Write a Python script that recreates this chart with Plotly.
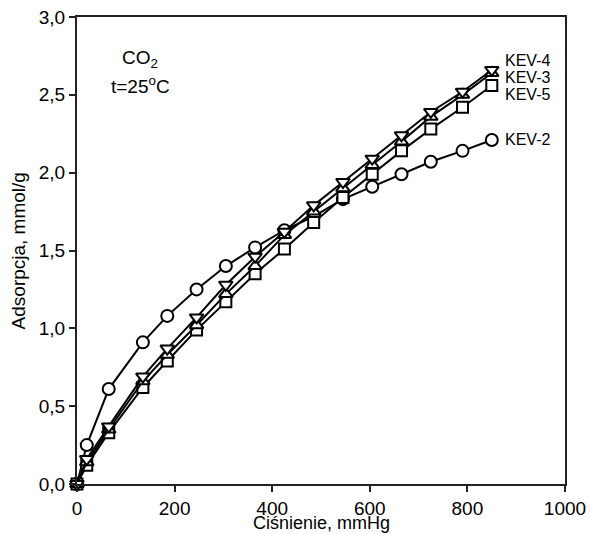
import plotly.graph_objects as go

pressure = [0, 20, 65, 135, 185, 245, 305, 365, 425, 485, 545, 605, 665, 725, 790, 850]
kev2 = [0.0, 0.25, 0.61, 0.91, 1.08, 1.25, 1.40, 1.52, 1.63, 1.72, 1.83, 1.91, 1.99, 2.07, 2.14, 2.21]
kev3 = [0.0, 0.14, 0.35, 0.66, 0.83, 1.02, 1.22, 1.40, 1.60, 1.75, 1.90, 2.05, 2.20, 2.36, 2.50, 2.64]
kev4 = [0.0, 0.16, 0.37, 0.69, 0.87, 1.07, 1.28, 1.46, 1.62, 1.79, 1.94, 2.09, 2.24, 2.39, 2.52, 2.66]
kev5 = [0.0, 0.12, 0.33, 0.62, 0.79, 0.99, 1.17, 1.35, 1.51, 1.68, 1.84, 1.99, 2.14, 2.28, 2.42, 2.56]

series = [
    ("KEV-2", kev2, "circle", 2.21),
    ("KEV-5", kev5, "square", 2.50),
    ("KEV-3", kev3, "triangle-up", 2.61),
    ("KEV-4", kev4, "triangle-down", 2.72),
]

font = "Liberation Sans, Arial, sans-serif"
fig = go.Figure()
for name, ys, sym, ly in series:
    fig.add_trace(go.Scatter(
        x=pressure, y=ys, mode="lines+markers", name=name,
        line=dict(color="black", width=2),
        marker=dict(symbol=sym, size=12 if sym != "square" else 11, color="white",
                    line=dict(color="black", width=2)),
        showlegend=False, cliponaxis=False,
    ))
    fig.add_annotation(x=872, y=ly, text=name, showarrow=False, xanchor="left",
                       yanchor="middle", font=dict(size=16, color="black", family=font))

fig.add_annotation(x=130, y=2.73, text="CO<sub>2</sub>", showarrow=False,
                   font=dict(size=19, color="black", family=font))
fig.add_annotation(x=130, y=2.56, text="t=25<sup>o</sup>C", showarrow=False,
                   font=dict(size=19, color="black", family=font))

# axis titles as annotations for exact placement
fig.add_annotation(x=0.5, y=-0.084, xref="paper", yref="paper", text="Ciśnienie, mmHg",
                   showarrow=False, xanchor="center", yanchor="middle",
                   font=dict(size=18, color="black", family=font))
fig.add_annotation(x=-0.119, y=0.5, xref="paper", yref="paper", text="Adsorpcja, mmol/g",
                   showarrow=False, xanchor="center", yanchor="middle", textangle=-90,
                   font=dict(size=19, color="black", family=font))

fig.update_layout(
    width=590, height=534,
    margin=dict(l=77, r=25, t=17, b=50),
    paper_bgcolor="white", plot_bgcolor="white",
    separators=", ",
    font=dict(family=font, size=19, color="black"),
)
fig.update_xaxes(
    range=[0, 1000], tickvals=[0, 200, 400, 600, 800, 1000],
    showgrid=False, zeroline=False, showline=True, linecolor="#222", linewidth=2,
    mirror=True, ticks="outside", ticklen=6, tickwidth=1.5, tickcolor="#222",
    tickfont=dict(size=19), automargin=False,
)
fig.update_yaxes(
    range=[0, 3.0], tickvals=[0, 0.5, 1.0, 1.5, 2.0, 2.5, 3.0], tickformat=".1f",
    showgrid=False, zeroline=False, showline=True, linecolor="#222", linewidth=2,
    mirror=True, ticks="outside", ticklen=6, tickwidth=1.5, tickcolor="#222",
    tickfont=dict(size=19), automargin=False,
)
fig.write_html("out.html")
